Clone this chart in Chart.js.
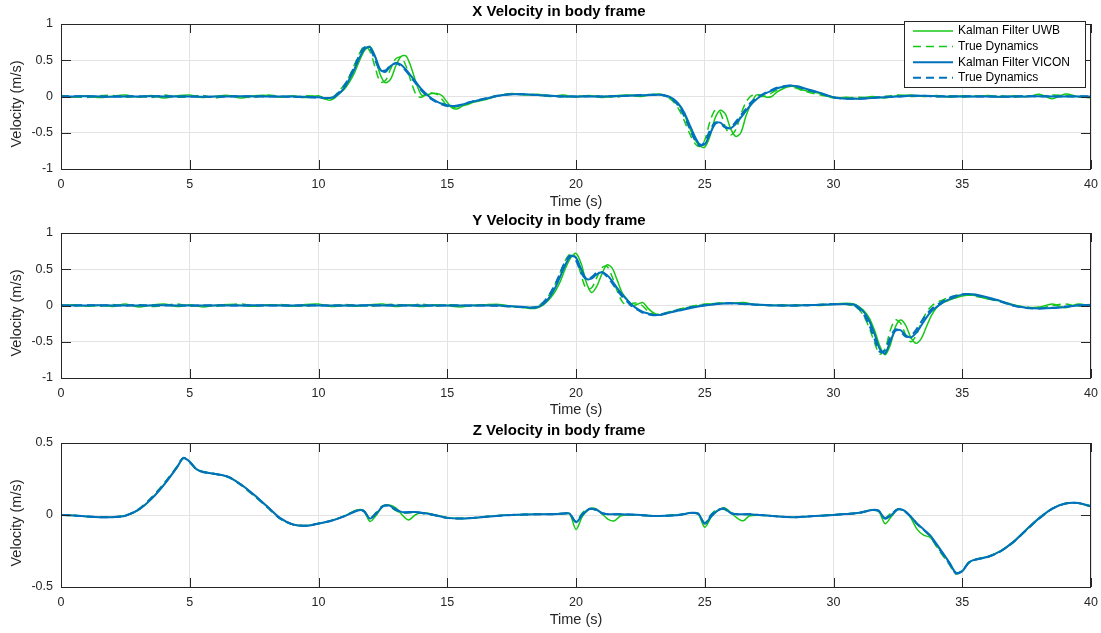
<!DOCTYPE html>
<html>
<head>
<meta charset="utf-8">
<script src="https://cdn.jsdelivr.net/npm/chart.js@4/dist/chart.umd.min.js"></script>
<style>
  body { margin: 0; background: #fff; width: 1101px; height: 633px; overflow: hidden; position: relative; }
  canvas { position: absolute; left: 0; }
</style>
</head>
<body>
<canvas id="xChart" width="1101" height="220" style="top:0px;width:1101px;height:220px"></canvas>
<canvas id="yChart" width="1101" height="220" style="top:209px;width:1101px;height:220px"></canvas>
<canvas id="zChart" width="1101" height="220" style="top:419px;width:1101px;height:220px"></canvas>
<script>
// ---- X velocity ----
const tX = [
  0,0.5,1,1.5,2,2.5,3,3.5,4,4.5,5,5.5,6,6.5,7,7.5,8,8.5,9,9.5,10,
  10.2,10.4,10.6,10.8,11,11.2,11.4,11.6,11.8,12,12.2,12.4,12.6,12.8,13,13.2,13.4,13.6,13.8,14,14.2,14.4,14.6,14.8,15,15.2,15.4,15.6,15.8,16,
  16.5,17,17.5,18,18.5,19,19.5,20,20.5,21,21.5,22,22.5,23,
  23.2,23.4,23.6,23.8,24,24.2,24.4,24.6,24.8,25,25.2,25.4,25.6,25.8,26,26.2,26.4,26.6,26.8,27,27.2,27.4,27.6,27.8,28,28.2,28.4,28.6,28.8,
  29.5,30,30.5,31,31.5,32,32.5,33,33.5,34,34.5,35,35.5,36,36.5,37,37.5,38,38.5,39,39.5,40
];
const xKfUwb = [
  0.0,-0.01,0.01,-0.015,0.005,0.02,-0.01,0.015,-0.02,0.01,0.02,-0.015,0.005,0.015,-0.02,0.01,0.015,-0.01,0.01,-0.015,0.01,
  -0.02,-0.05,-0.03,0.04,0.1,0.2,0.33,0.5,0.64,0.69,0.55,0.3,0.19,0.24,0.42,0.55,0.56,0.4,0.18,0.02,0.02,0.04,0.04,0.01,-0.08,-0.16,-0.17,-0.13,-0.11,-0.08,
  -0.04,0.01,0.04,0.02,0.03,0.0,0.02,-0.01,0.015,-0.015,0.01,0.02,0.0,0.03,
  0.03,0.02,0.0,-0.05,-0.12,-0.24,-0.42,-0.58,-0.68,-0.70,-0.55,-0.3,-0.19,-0.24,-0.44,-0.55,-0.5,-0.27,-0.1,0.02,0.02,-0.01,0.0,0.06,0.1,0.13,0.14,0.12,0.09,
  0.04,-0.02,-0.01,-0.03,0.0,-0.02,0.01,0.02,0.0,0.015,-0.01,0.01,0.0,0.015,-0.01,0.01,-0.005,0.03,-0.03,0.035,0.0,-0.02
];
const xTrueUwb = [
  0.01,0.0,-0.015,0.01,0.015,-0.01,0.005,-0.015,0.02,-0.01,0.0,0.015,-0.02,0.01,0.0,-0.015,0.02,0.005,-0.01,0.01,0.0,
  -0.03,-0.03,0.0,0.08,0.16,0.28,0.44,0.6,0.7,0.62,0.4,0.2,0.22,0.38,0.52,0.54,0.42,0.2,0.02,-0.01,0.04,0.05,0.03,-0.04,-0.13,-0.15,-0.14,-0.12,-0.09,-0.07,
  -0.03,0.02,0.03,0.035,0.015,0.02,-0.01,0.01,0.0,0.01,-0.01,0.015,0.02,0.02,
  0.03,0.01,-0.02,-0.08,-0.18,-0.33,-0.5,-0.64,-0.69,-0.6,-0.35,-0.19,-0.22,-0.42,-0.53,-0.46,-0.25,-0.08,0.01,0.02,0.0,0.01,0.05,0.09,0.12,0.14,0.13,0.11,0.08,
  0.02,-0.01,-0.02,-0.01,-0.02,0.0,0.02,0.0,0.01,-0.005,0.01,-0.01,0.01,0.0,0.01,-0.01,0.01,0.0,0.02,0.01,-0.01,0.0
];
const xKfVicon = [
  0,0,0.005,0,-0.005,0,0,0.005,0,0,0,-0.005,0,0,0.005,0,0,0,0,-0.005,-0.01,
  -0.02,-0.02,-0.01,0.04,0.12,0.24,0.38,0.54,0.66,0.68,0.55,0.37,0.34,0.42,0.46,0.44,0.37,0.28,0.19,0.10,0.03,-0.03,-0.07,-0.10,-0.12,-0.13,-0.13,-0.11,-0.09,-0.07,
  -0.03,0.01,0.03,0.03,0.02,0.01,0.0,0.0,0.0,0.0,0.005,0.01,0.015,0.02,
  0.025,0.02,0.0,-0.04,-0.11,-0.22,-0.38,-0.54,-0.66,-0.66,-0.52,-0.38,-0.36,-0.42,-0.44,-0.38,-0.29,-0.2,-0.11,-0.04,0.01,0.05,0.08,0.11,0.13,0.145,0.15,0.14,0.12,
  0.05,-0.01,-0.03,-0.03,-0.02,-0.01,0.0,0.01,0.01,0.005,0.0,0.0,0.0,0.0,-0.005,0.0,0.0,0.005,0.0,0.0,0.0,0.0
];
const xTrueVicon = [
  0,0.005,0,0,0,0.005,0,0,0.005,0,0,0,-0.005,0,0,0.005,0,0,-0.005,-0.01,-0.015,
  -0.02,-0.02,0.0,0.06,0.15,0.27,0.42,0.58,0.68,0.66,0.5,0.36,0.36,0.43,0.46,0.42,0.35,0.26,0.17,0.08,0.01,-0.04,-0.08,-0.11,-0.13,-0.135,-0.125,-0.105,-0.085,-0.065,
  -0.025,0.015,0.03,0.03,0.02,0.01,0.0,0.0,0.005,0.0,0.005,0.01,0.02,0.025,
  0.03,0.015,-0.01,-0.06,-0.14,-0.27,-0.43,-0.59,-0.68,-0.63,-0.47,-0.36,-0.37,-0.43,-0.43,-0.35,-0.26,-0.17,-0.08,-0.02,0.02,0.06,0.09,0.12,0.14,0.15,0.15,0.135,0.11,
  0.04,-0.015,-0.03,-0.03,-0.02,-0.005,0.0,0.01,0.01,0.0,0.0,0.005,0.0,0.0,0.0,0.0,0.005,0.0,0.0,0.0,0.005,0.0
];

// ---- Y velocity ----
const tY = [
  0,0.5,1,1.5,2,2.5,3,3.5,4,4.5,5,5.5,6,6.5,7,7.5,8,8.5,9,9.5,10,10.5,11,11.5,12,12.5,13,13.5,14,14.5,15,15.5,16,16.5,17,17.5,18,
  18.2,18.4,18.6,18.8,19,19.2,19.4,19.6,19.8,20,20.2,20.4,20.6,20.8,21,21.2,21.4,21.6,21.8,22,22.2,22.4,22.6,22.8,23,23.2,23.4,23.6,
  24,24.5,25,25.5,26,26.5,27,27.5,28,28.5,29,29.5,30,30.5,
  30.8,31,31.2,31.4,31.6,31.8,32,32.2,32.4,32.6,32.8,33,33.2,33.4,33.6,33.8,34,34.2,34.4,34.6,34.8,35,35.2,35.4,35.6,
  36,36.5,37,37.5,38,38.5,39,39.5,40
];
const yKfUwb = [
  0.0,0.01,-0.01,0.005,-0.015,0.02,-0.02,0.005,0.02,-0.015,0.01,-0.02,0.005,0.015,0.0,-0.01,0.01,0.005,-0.01,0.015,
  0.02,-0.015,0.0,-0.01,0.01,0.02,-0.015,0.01,-0.015,0.01,0.0,-0.02,0.005,0.01,0.015,-0.01,-0.03,
  -0.04,-0.04,-0.02,0.03,0.1,0.2,0.34,0.52,0.66,0.72,0.58,0.32,0.18,0.26,0.43,0.56,0.52,0.35,0.17,0.08,0.0,0.02,0.04,-0.04,-0.1,-0.13,-0.12,-0.1,
  -0.06,-0.02,0.01,0.03,0.03,0.04,0.01,0.0,0.01,-0.005,0.01,0.0,0.02,0.03,
  0.02,-0.02,-0.08,-0.18,-0.35,-0.56,-0.68,-0.55,-0.3,-0.2,-0.27,-0.44,-0.52,-0.46,-0.3,-0.14,-0.03,0.03,0.06,0.09,0.11,0.13,0.14,0.14,0.13,
  0.09,0.06,0.01,-0.03,-0.02,0.02,-0.03,0.02,-0.01
];
const yTrueUwb = [
  0.01,-0.005,0.005,-0.01,0.015,-0.005,0.01,-0.015,0.0,0.02,-0.01,0.005,-0.01,0.01,0.02,-0.005,0.0,0.015,0.0,-0.01,
  0.01,0.0,0.015,0.005,-0.01,0.01,0.015,-0.005,0.02,-0.01,0.01,0.005,-0.01,0.015,0.0,-0.02,-0.02,
  -0.03,-0.02,0.01,0.07,0.17,0.3,0.47,0.63,0.72,0.66,0.42,0.23,0.24,0.38,0.52,0.54,0.4,0.2,0.05,0.0,0.03,0.03,-0.01,-0.08,-0.12,-0.12,-0.11,-0.09,
  -0.05,-0.01,0.02,0.03,0.035,0.02,0.01,0.005,-0.005,0.01,0.0,0.015,0.02,0.015,
  -0.01,-0.06,-0.16,-0.32,-0.52,-0.67,-0.6,-0.35,-0.2,-0.24,-0.4,-0.5,-0.42,-0.24,-0.1,-0.01,0.04,0.07,0.1,0.12,0.14,0.15,0.15,0.14,0.12,
  0.1,0.05,0.0,-0.02,-0.04,0.0,0.02,-0.01,0.01
];
const yKfVicon = [
  0,0,0,0.005,0,0,0,0,0.005,0,0,0,0,0,0,0.005,0,0,0,0,
  0,0,0,0,0.005,0,0,0,0,0,0,0,0,0,0,-0.01,-0.02,
  -0.03,-0.03,-0.01,0.04,0.13,0.25,0.41,0.57,0.68,0.66,0.5,0.37,0.37,0.43,0.46,0.42,0.34,0.24,0.15,0.07,0.0,-0.05,-0.09,-0.11,-0.13,-0.13,-0.12,-0.1,
  -0.07,-0.03,0.0,0.02,0.03,0.025,0.015,0.005,0.0,0.0,0.005,0.01,0.015,0.02,
  0.01,-0.03,-0.1,-0.22,-0.4,-0.6,-0.66,-0.5,-0.35,-0.34,-0.41,-0.44,-0.38,-0.28,-0.17,-0.08,-0.02,0.03,0.07,0.1,0.13,0.15,0.16,0.155,0.145,
  0.11,0.06,0.0,-0.03,-0.04,-0.035,-0.02,0.0,0.01
];
const yTrueVicon = [
  0,0,0.005,0,0,0,0.005,0,0,0,0,0,0.005,0,0,0,0,0,0,0.005,
  0,0,0,0,0,0,0.005,0,0,0,0,0,0,0,-0.005,-0.015,-0.025,
  -0.03,-0.025,0.0,0.07,0.17,0.3,0.46,0.62,0.69,0.62,0.45,0.36,0.39,0.45,0.46,0.4,0.31,0.21,0.12,0.05,-0.02,-0.06,-0.1,-0.12,-0.135,-0.13,-0.115,-0.095,
  -0.06,-0.02,0.005,0.025,0.03,0.02,0.01,0.005,0.0,0.0,0.005,0.01,0.02,0.02,
  0.0,-0.05,-0.14,-0.28,-0.47,-0.64,-0.62,-0.44,-0.33,-0.36,-0.43,-0.42,-0.34,-0.23,-0.13,-0.05,0.0,0.05,0.09,0.12,0.14,0.155,0.16,0.15,0.135,
  0.1,0.05,-0.005,-0.035,-0.04,-0.03,-0.015,0.005,0.01
];

// ---- Z velocity ----
const tZ = [
  0,0.5,1,1.5,2,2.5,3,3.5,4,4.5,4.75,5,5.25,5.5,6,6.5,7,7.5,8,8.5,9,9.5,10,10.5,11,11.5,
  11.75,12,12.25,12.5,12.75,13,13.25,13.5,13.75,14,
  14.5,15,15.5,16,16.5,17,17.5,18,18.5,19,19.5,
  19.75,20,20.25,20.5,20.75,21,21.25,21.5,21.75,
  22.5,23,23.5,24,24.5,
  24.75,25,25.25,25.5,25.75,26,26.25,26.5,26.75,
  27.5,28,28.5,29,29.5,30,30.5,31,31.5,
  31.75,32,32.25,32.5,32.75,33,33.25,33.5,33.75,
  34,34.5,34.75,35,35.25,35.5,36,36.5,37,37.5,38,38.5,39,39.5,40
];
const zKfUwb = [
  0,-0.004,-0.01,-0.016,-0.014,-0.004,0.033,0.108,0.212,0.328,0.392,0.372,0.318,0.302,0.284,0.264,0.212,0.138,0.062,-0.022,-0.066,-0.074,-0.061,-0.039,-0.008,0.035,
  0.03,-0.045,0.0,0.06,0.07,0.05,0.0,-0.035,0.0,0.015,
  0.002,-0.018,-0.025,-0.021,-0.012,-0.004,0.001,0.004,0.005,0.006,0.01,
  0.01,-0.1,-0.01,0.04,0.045,0.01,-0.03,-0.04,-0.005,
  0.001,-0.006,-0.006,0.001,0.016,
  0.005,-0.085,-0.015,0.03,0.05,0.02,-0.02,-0.04,-0.005,
  -0.004,-0.011,-0.015,-0.011,-0.004,0.001,0.008,0.016,0.036,
  0.03,-0.06,-0.01,0.04,0.03,-0.02,-0.1,-0.14,-0.155,
  -0.21,-0.33,-0.4,-0.392,-0.328,-0.308,-0.288,-0.248,-0.183,-0.098,-0.018,0.046,0.081,0.082,0.058
];
const zTrueUwb = [
  0,-0.002,-0.011,-0.015,-0.016,-0.006,0.04,0.12,0.22,0.335,0.398,0.365,0.315,0.298,0.286,0.262,0.205,0.132,0.055,-0.025,-0.066,-0.073,-0.058,-0.038,-0.006,0.033,
  0.025,-0.02,0.02,0.065,0.06,0.03,0.015,0.015,0.02,0.012,
  -0.002,-0.021,-0.024,-0.019,-0.011,-0.005,0.0,0.003,0.004,0.005,0.009,
  0.005,-0.045,0.015,0.045,0.035,0.01,0.005,0.004,0.004,
  -0.001,-0.007,-0.004,0.002,0.013,
  0.005,-0.055,0.005,0.04,0.04,0.01,0.005,0.004,0.004,
  -0.006,-0.012,-0.014,-0.01,-0.005,0.0,0.006,0.014,0.033,
  0.025,-0.02,0.015,0.04,0.025,-0.015,-0.065,-0.105,-0.15,
  -0.22,-0.345,-0.41,-0.385,-0.335,-0.312,-0.292,-0.252,-0.188,-0.105,-0.025,0.042,0.078,0.084,0.062
];
const zKfVicon = [
  0,-0.003,-0.01,-0.015,-0.015,-0.005,0.035,0.11,0.21,0.33,0.395,0.37,0.32,0.3,0.285,0.265,0.21,0.14,0.06,-0.02,-0.065,-0.075,-0.06,-0.04,-0.01,0.03,
  0.03,-0.025,0.01,0.06,0.065,0.04,0.02,0.02,0.02,0.015,
  0.0,-0.02,-0.025,-0.02,-0.012,-0.005,0.0,0.003,0.005,0.005,0.01,
  0.01,-0.05,0.0,0.04,0.04,0.015,0.005,0.005,0.005,
  0.0,-0.007,-0.005,0.0,0.015,
  0.01,-0.06,-0.01,0.03,0.045,0.015,0.005,0.005,0.005,
  -0.005,-0.012,-0.015,-0.01,-0.005,0.0,0.007,0.015,0.035,
  0.03,-0.025,0.0,0.04,0.03,-0.01,-0.06,-0.1,-0.14,
  -0.2,-0.33,-0.4,-0.39,-0.33,-0.31,-0.29,-0.25,-0.185,-0.1,-0.02,0.045,0.08,0.083,0.06
];
const zTrueVicon = [
  0,-0.003,-0.01,-0.015,-0.015,-0.005,0.038,0.116,0.216,0.333,0.397,0.367,0.318,0.299,0.285,0.264,0.208,0.136,0.058,-0.023,-0.065,-0.074,-0.059,-0.039,-0.008,0.032,
  0.028,-0.022,0.015,0.062,0.063,0.035,0.018,0.018,0.02,0.014,
  -0.001,-0.02,-0.025,-0.02,-0.012,-0.005,0.0,0.003,0.005,0.005,0.01,
  0.008,-0.048,0.008,0.042,0.038,0.012,0.005,0.005,0.005,
  0.0,-0.007,-0.005,0.001,0.014,
  0.008,-0.058,0.0,0.035,0.043,0.013,0.005,0.005,0.005,
  -0.005,-0.012,-0.015,-0.01,-0.005,0.0,0.007,0.015,0.034,
  0.028,-0.022,0.008,0.04,0.028,-0.012,-0.062,-0.102,-0.145,
  -0.21,-0.338,-0.405,-0.388,-0.332,-0.311,-0.291,-0.251,-0.186,-0.102,-0.022,0.044,0.079,0.083,0.061
];

const seriesLabels = ['Kalman Filter UWB', 'True Dynamics', 'Kalman Filter VICON', 'True Dynamics'];

const FONT = "'Liberation Sans', Arial, Helvetica, sans-serif";
const GREEN = 'rgb(22,200,22)';
const BLUE = '#0072BD';
const AXIS = '#262626';

// box, inner tick marks, title and y label the matlab way
const matlabAxes = {
    id: 'matlabAxes',
    afterDatasetsDraw(chart, args, opts) {
        const ctx = chart.ctx;
        const a = chart.chartArea;
        const sx = chart.scales.x, sy = chart.scales.y;
        ctx.save();
        ctx.strokeStyle = AXIS;
        ctx.lineWidth = 1;
        ctx.beginPath();
        sx.ticks.forEach(t => {
            const px = Math.round(sx.getPixelForValue(t.value)) + 0.5;
            ctx.moveTo(px, a.bottom); ctx.lineTo(px, a.bottom - 9);
            ctx.moveTo(px, a.top); ctx.lineTo(px, a.top + 9);
        });
        sy.ticks.forEach(t => {
            const py = Math.round(sy.getPixelForValue(t.value)) + 0.5;
            ctx.moveTo(a.left, py); ctx.lineTo(a.left + 10, py);
            ctx.moveTo(a.right, py); ctx.lineTo(a.right - 10, py);
        });
        ctx.stroke();
        ctx.strokeRect(a.left + 0.5, a.top + 0.5, a.right - a.left - 1, a.bottom - a.top);

        ctx.fillStyle = '#000';
        ctx.font = 'bold 15px ' + FONT;
        ctx.textAlign = 'center';
        ctx.textBaseline = 'middle';
        ctx.fillText(opts.title, opts.titleX, opts.titleY);

        ctx.translate(opts.ylabelX, opts.ylabelY);
        ctx.rotate(-Math.PI / 2);
        ctx.fillStyle = AXIS;
        ctx.font = '14.5px ' + FONT;
        ctx.fillText('Velocity (m/s)', 0, 0);
        ctx.restore();
    }
};

// legend with a frame, only on the first plot
const boxLegend = {
    id: 'boxLegend',
    afterDraw(chart, args, opts) {
        if (!opts.show) return;
        const ctx = chart.ctx;
        ctx.save();
        ctx.fillStyle = '#fff';
        ctx.fillRect(904, 21, 181, 66);
        ctx.strokeStyle = AXIS;
        ctx.lineWidth = 1;
        ctx.strokeRect(904.5, 21.5, 181, 66);
        chart.data.datasets.forEach((ds, i) => {
            const y = 31 + i * 15.6;
            ctx.strokeStyle = ds.borderColor;
            ctx.lineWidth = ds.borderWidth;
            ctx.setLineDash(ds.borderDash || []);
            ctx.beginPath();
            ctx.moveTo(913, y);
            ctx.lineTo(953, y);
            ctx.stroke();
            ctx.setLineDash([]);
            ctx.fillStyle = '#000';
            ctx.font = '12px ' + FONT;
            ctx.textAlign = 'left';
            ctx.textBaseline = 'middle';
            ctx.fillText(ds.label, 958, y);
        });
        ctx.restore();
    }
};

function makeSets(t, kfUwb, trueUwb, kfVicon, trueVicon) {
    const pts = arr => arr.map((v, i) => ({x: t[i], y: v}));
    return [
        {label: seriesLabels[0], data: pts(kfUwb), borderColor: GREEN, borderWidth: 1.5, order: 4},
        {label: seriesLabels[1], data: pts(trueUwb), borderColor: GREEN, borderWidth: 1.5, borderDash: [8, 5], order: 3},
        {label: seriesLabels[2], data: pts(kfVicon), borderColor: BLUE, borderWidth: 2, order: 2},
        {label: seriesLabels[3], data: pts(trueVicon), borderColor: BLUE, borderWidth: 2, borderDash: [8, 5], order: 1}
    ];
}

function velocityChart(id, title, datasets, yMax, xAxisHeight, xTitlePad, showLegend) {
    const ctx = document.getElementById(id).getContext('2d');
    return new Chart(ctx, {
        type: 'line',
        data: {datasets: datasets},
        plugins: [matlabAxes, boxLegend],
        options: {
            responsive: false,
            animation: false,
            devicePixelRatio: 1,
            layout: {padding: {top: 24, right: 10, left: 0, bottom: 0}},
            elements: {point: {radius: 0}, line: {tension: 0.3, fill: false}},
            plugins: {
                legend: {display: false},
                tooltip: {enabled: false},
                matlabAxes: {title: title, titleX: 559, titleY: 12, ylabelX: 17, ylabelY: 104},
                boxLegend: {show: showLegend}
            },
            scales: {
                x: {
                    type: 'linear', min: 0, max: 40,
                    afterFit: s => { s.height = xAxisHeight; s.paddingLeft = 0; s.paddingRight = 0; },
                    ticks: {stepSize: 5, padding: 8, color: AXIS, font: {family: FONT, size: 12.5}, maxRotation: 0},
                    grid: {color: '#e3e3e3', drawTicks: false},
                    border: {display: false},
                    title: {display: true, text: 'Time (s)', color: AXIS, font: {family: FONT, size: 14.5}, padding: {top: 0, bottom: xTitlePad}}
                },
                y: {
                    min: -yMax, max: yMax,
                    afterFit: s => { s.width = 61; s.paddingTop = 0; s.paddingBottom = 0; },
                    ticks: {stepSize: 0.5, padding: 8, color: AXIS, font: {family: FONT, size: 12.5}, callback: v => String(v)},
                    grid: {color: '#e3e3e3', drawTicks: false},
                    border: {display: false}
                }
            }
        }
    });
}

velocityChart('xChart', 'X Velocity in body frame', makeSets(tX, xKfUwb, xTrueUwb, xKfVicon, xTrueVicon), 1, 51, 9.5, true);
velocityChart('yChart', 'Y Velocity in body frame', makeSets(tY, yKfUwb, yTrueUwb, yKfVicon, yTrueVicon), 1, 51, 10, false);
velocityChart('zChart', 'Z Velocity in body frame', makeSets(tZ, zKfUwb, zTrueUwb, zKfVicon, zTrueVicon), 0.5, 52, 10, false);
</script>
</body>
</html>
